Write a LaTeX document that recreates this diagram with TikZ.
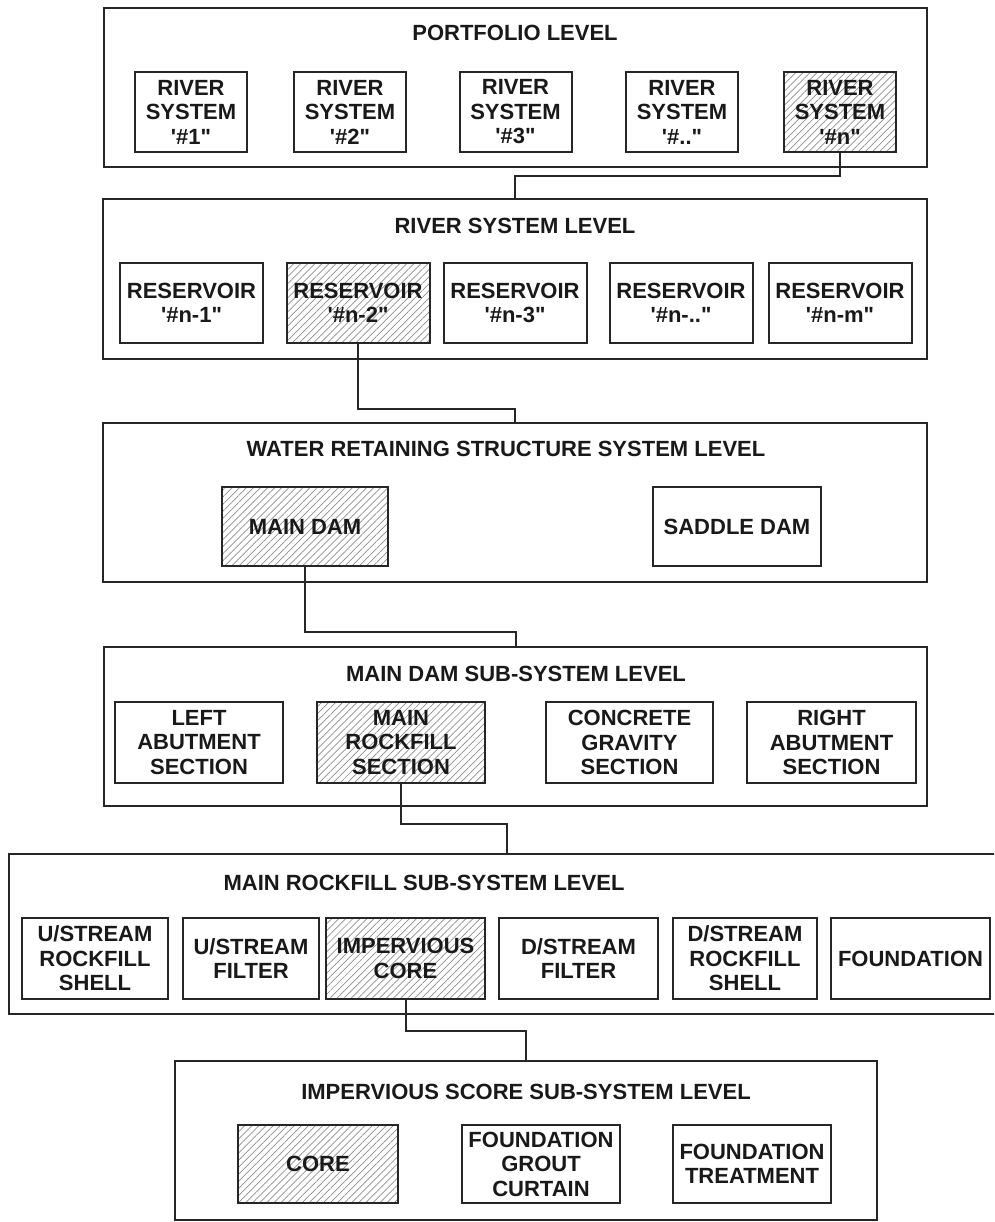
\documentclass[tikz,border=0pt]{standalone}
\usepackage{fontspec}
\setmainfont{Liberation Sans}[Ligatures=TeXOff]
\usetikzlibrary{patterns.meta}
\newcommand\boxfont{\fontsize{22pt}{24.5pt}\selectfont\bfseries}
\tikzset{
  levelbox/.style={draw=black!85, line width=2.2pt, inner sep=0pt},
  item/.style={draw=black!85, line width=2pt, align=center, font=\boxfont,
               inner sep=0pt, text=black!90},
  hatched/.style={pattern={Lines[angle=45,distance=5pt,line width=0.7pt]},
                  pattern color=black!45},
  leveltitle/.style={font=\boxfont, anchor=base, inner sep=0pt, text=black!90},
  link/.style={draw=black!85, line width=2pt}
}
\begin{document}
\begin{tikzpicture}[x=1pt,y=-1pt]
\useasboundingbox (0,0) rectangle (994,1222);
\clip (0,0) rectangle (994,1222);

% ---- portfolio level ----
\node[levelbox, minimum width=823pt, minimum height=159pt] (pl) at (515.5,87.5) {};
\node[leveltitle] (plt) at (515,41) {PORTFOLIO LEVEL};
\foreach \n/\cx/\lab in {1/191/\#1, 2/350/\#2, 3/515.5/\#3, 4/682/\#..}
  \node[item, minimum width=112pt, minimum height=80pt] (rs\n) at (\cx,112)
    {RIVER\\SYSTEM\\'\lab"};
\node[item, hatched, minimum width=112pt, minimum height=80pt] (rsn) at (840,112)
    {RIVER\\SYSTEM\\'\#n"};

% ---- river system level ----
\node[levelbox, minimum width=824pt, minimum height=160pt] (rsl) at (515,279) {};
\node[leveltitle] (rslt) at (515,234) {RIVER SYSTEM LEVEL};
\node[item, minimum width=143pt, minimum height=80pt] (res1) at (191.5,303) {RESERVOIR\\'\#n-1"};
\node[item, hatched, minimum width=143pt, minimum height=80pt] (res2) at (358,303) {RESERVOIR\\'\#n-2"};
\node[item, minimum width=143pt, minimum height=80pt] (res3) at (515,303) {RESERVOIR\\'\#n-3"};
\node[item, minimum width=143pt, minimum height=80pt] (res4) at (681,303) {RESERVOIR\\'\#n-.."};
\node[item, minimum width=143pt, minimum height=80pt] (res5) at (840,303) {RESERVOIR\\'\#n-m"};

% ---- water retaining structure system level ----
\node[levelbox, minimum width=824pt, minimum height=159pt] (wrs) at (515,502.5) {};
\node[leveltitle] (wrst) at (506,456) {WATER RETAINING STRUCTURE SYSTEM LEVEL};
\node[item, hatched, minimum width=166pt, minimum height=79pt] (maindam) at (305,526.5) {MAIN DAM};
\node[item, minimum width=168pt, minimum height=79pt] (saddle) at (737,526.5) {SADDLE DAM};

% ---- main dam sub-system level ----
\node[levelbox, minimum width=823pt, minimum height=159pt] (mds) at (515.5,726.5) {};
\node[leveltitle] (mdst) at (516,681) {MAIN DAM SUB-SYSTEM LEVEL};
\node[item, minimum width=168pt, minimum height=81pt] (leftab) at (199,742.5) {LEFT\\ABUTMENT\\SECTION};
\node[item, hatched, minimum width=168pt, minimum height=81pt] (mrock) at (401,742.5) {MAIN\\ROCKFILL\\SECTION};
\node[item, minimum width=167pt, minimum height=81pt] (concrete) at (629.5,742.5) {CONCRETE\\GRAVITY\\SECTION};
\node[item, minimum width=169pt, minimum height=81pt] (rightab) at (831.5,742.5) {RIGHT\\ABUTMENT\\SECTION};

% ---- main rockfill sub-system level (runs past the right edge) ----
\node[levelbox, minimum width=996pt, minimum height=160pt] (mrs) at (507,934) {};
\node[leveltitle] (mrst) at (424,890) {MAIN ROCKFILL SUB-SYSTEM LEVEL};
\node[item, minimum width=146pt, minimum height=81pt] (usshell) at (95,958.5) {U/STREAM\\ROCKFILL\\SHELL};
\node[item, minimum width=136pt, minimum height=81pt] (usfilter) at (251,958.5) {U/STREAM\\FILTER};
\node[item, hatched, minimum width=159pt, minimum height=81pt] (impcore) at (405.5,958.5) {IMPERVIOUS\\CORE};
\node[item, minimum width=159pt, minimum height=81pt] (dsfilter) at (578.5,958.5) {D/STREAM\\FILTER};
\node[item, minimum width=144pt, minimum height=81pt] (dsshell) at (745,958.5) {D/STREAM\\ROCKFILL\\SHELL};
\node[item, minimum width=159pt, minimum height=81pt] (found) at (910.5,958.5) {FOUNDATION};

% ---- impervious core sub-system level ----
\node[levelbox, minimum width=702pt, minimum height=159pt] (isl) at (526,1140.5) {};
\node[leveltitle] (islt) at (526,1099) {IMPERVIOUS SCORE SUB-SYSTEM LEVEL};
\node[item, hatched, minimum width=160pt, minimum height=78pt] (core) at (318,1164) {CORE};
\node[item, minimum width=158pt, minimum height=78pt] (grout) at (541,1164) {FOUNDATION\\GROUT\\CURTAIN};
\node[item, minimum width=158pt, minimum height=78pt] (treat) at (752,1164) {FOUNDATION\\TREATMENT};

% ---- links between levels ----
\draw[link] (rsn.south) -- ++(0,24) -| (rsl.north);
\draw[link] (res2.south) -- ++(0,65) -| (wrs.north);
\draw[link] (maindam.south) -- ++(0,65) -| (mds.north);
\draw[link] (mrock.south) -- ++(0,40) -| (mrs.north);
\draw[link] (impcore.south) -- ++(0,31) -| (isl.north);
\end{tikzpicture}
\end{document}
